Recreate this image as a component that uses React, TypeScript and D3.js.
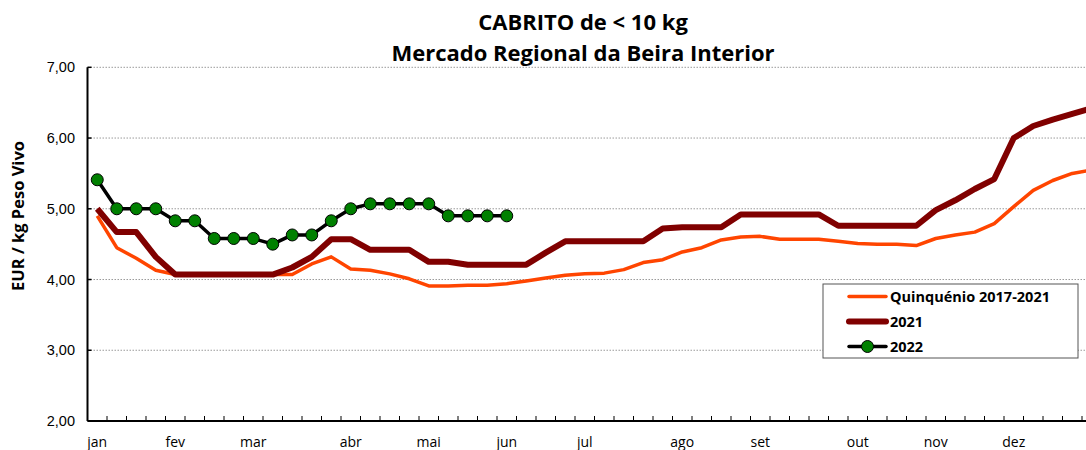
import { useEffect, useRef } from "react";
import * as d3 from "d3";

// Semanas (eixo de categorias)
const weeks = d3.range(1, 53);

// Rótulos de mês e a semana onde aparecem
const monthNames = ["jan", "fev", "mar", "abr", "mai", "jun", "jul", "ago", "set", "out", "nov", "dez"];
const monthWeeks = [1, 5, 9, 14, 18, 22, 26, 31, 35, 40, 44, 48];

const yTicks = [2, 3, 4, 5, 6, 7];

// Quinquénio 2017-2021
const quinquenio = [
    4.9, 4.45, 4.3, 4.13, 4.07, 4.07, 4.07, 4.07, 4.07, 4.07, 4.07, 4.22, 4.32,
    4.15, 4.13, 4.08, 4.01, 3.91, 3.91, 3.92, 3.92, 3.94, 3.98, 4.02, 4.06, 4.08,
    4.09, 4.14, 4.24, 4.28, 4.39, 4.45, 4.56, 4.6, 4.61, 4.57, 4.57, 4.57, 4.54,
    4.51, 4.5, 4.5, 4.48, 4.58, 4.63, 4.67, 4.79, 5.03, 5.26, 5.4, 5.5, 5.55,
];

// 2021
const ano2021 = [
    5.0, 4.67, 4.67, 4.32, 4.07, 4.07, 4.07, 4.07, 4.07, 4.07, 4.17, 4.32, 4.57,
    4.57, 4.42, 4.42, 4.42, 4.25, 4.25, 4.21, 4.21, 4.21, 4.21, 4.38, 4.54, 4.54,
    4.54, 4.54, 4.54, 4.72, 4.74, 4.74, 4.74, 4.92, 4.92, 4.92, 4.92, 4.92, 4.76,
    4.76, 4.76, 4.76, 4.76, 4.98, 5.12, 5.28, 5.42, 6.0, 6.17, 6.26, 6.34, 6.42,
];

// 2022 (até à semana 22)
const ano2022 = [
    5.41, 5.0, 5.0, 5.0, 4.83, 4.83, 4.58, 4.58, 4.58, 4.5, 4.63, 4.63, 4.83,
    5.0, 5.07, 5.07, 5.07, 5.07, 4.9, 4.9, 4.9, 4.9,
];

const bold = "'Open Sans', 'DejaVu Sans', sans-serif";

export default function App() {
    const svgRef = useRef<SVGSVGElement | null>(null);

    useEffect(() => {
        if (!svgRef.current) return;
        d3.select(svgRef.current).selectAll("*").remove();

        const width = 1086;
        const height = 450;
        const margin = { top: 67.3, left: 87.5 };
        const band = 19.5;
        const innerHeight = 421 - margin.top;

        const svg = d3.select(svgRef.current).attr("width", width).attr("height", height);

        const x = d3
            .scaleBand<number>()
            .domain(weeks)
            .range([margin.left, margin.left + band * weeks.length]);
        const cx = (w: number) => (x(w) || 0) + x.bandwidth() / 2;

        const y = d3.scaleLinear().domain([2, 7]).range([margin.top + innerHeight, margin.top]);

        // Grelha
        svg.append("g")
            .selectAll("line")
            .data(yTicks.filter((d) => d > 2))
            .enter()
            .append("line")
            .attr("x1", margin.left)
            .attr("x2", width)
            .attr("y1", (d) => y(d))
            .attr("y2", (d) => y(d))
            .attr("stroke", "#9a9a9a")
            .attr("stroke-width", 1)
            .attr("stroke-dasharray", "1.5,1.5");

        // Eixo Y
        svg.append("line")
            .attr("x1", margin.left)
            .attr("x2", margin.left)
            .attr("y1", y(7))
            .attr("y2", y(2))
            .attr("stroke", "#000")
            .attr("stroke-width", 2);
        svg.append("g")
            .selectAll("line")
            .data(yTicks)
            .enter()
            .append("line")
            .attr("x1", margin.left)
            .attr("x2", margin.left + 4)
            .attr("y1", (d) => y(d))
            .attr("y2", (d) => y(d))
            .attr("stroke", "#000")
            .attr("stroke-width", 1.5);
        svg.append("g")
            .selectAll("text")
            .data(yTicks)
            .enter()
            .append("text")
            .attr("x", 75)
            .attr("y", (d) => y(d) + 5)
            .attr("text-anchor", "end")
            .attr("font-family", "'Liberation Sans', Arial, sans-serif")
            .attr("font-size", "14.5px")
            .attr("fill", "#000")
            .text((d) => d3.format(".2f")(d).replace(".", ","));

        // Eixo X
        svg.append("line")
            .attr("x1", margin.left)
            .attr("x2", width)
            .attr("y1", y(2))
            .attr("y2", y(2))
            .attr("stroke", "#000")
            .attr("stroke-width", 2);
        svg.append("g")
            .selectAll("line")
            .data(weeks.slice(1))
            .enter()
            .append("line")
            .attr("x1", (d) => x(d) || 0)
            .attr("x2", (d) => x(d) || 0)
            .attr("y1", y(2))
            .attr("y2", y(2) - 5)
            .attr("stroke", "#000")
            .attr("stroke-width", 1);
        svg.append("g")
            .selectAll("text")
            .data(monthWeeks)
            .enter()
            .append("text")
            .attr("x", (d) => cx(d))
            .attr("y", 447)
            .attr("text-anchor", "middle")
            .attr("font-family", "'Open Sans', sans-serif")
            .attr("font-size", "14px")
            .attr("fill", "#000")
            .text((d, i) => monthNames[i]);

        // Séries
        const line = d3
            .line<number>()
            .x((d, i) => cx(weeks[i]))
            .y((d) => y(d));

        svg.append("path")
            .datum(quinquenio)
            .attr("d", line)
            .attr("fill", "none")
            .attr("stroke", "#ff4500")
            .attr("stroke-width", 3.5)
            .attr("stroke-linejoin", "round");

        svg.append("path")
            .datum(ano2021)
            .attr("d", line)
            .attr("fill", "none")
            .attr("stroke", "#800000")
            .attr("stroke-width", 6)
            .attr("stroke-linejoin", "round");

        svg.append("path")
            .datum(ano2022)
            .attr("d", line)
            .attr("fill", "none")
            .attr("stroke", "#000")
            .attr("stroke-width", 3.5)
            .attr("stroke-linejoin", "round");

        svg.append("g")
            .selectAll("circle")
            .data(ano2022)
            .enter()
            .append("circle")
            .attr("cx", (d, i) => cx(weeks[i]))
            .attr("cy", (d) => y(d))
            .attr("r", 6)
            .attr("fill", "#008000")
            .attr("stroke", "#000")
            .attr("stroke-width", 1);

        // Títulos
        svg.append("text")
            .attr("x", 583)
            .attr("y", 30)
            .attr("text-anchor", "middle")
            .attr("font-family", bold)
            .attr("font-weight", "bold")
            .attr("font-size", "22px")
            .text("CABRITO de < 10 kg");
        svg.append("text")
            .attr("x", 583)
            .attr("y", 61)
            .attr("text-anchor", "middle")
            .attr("font-family", bold)
            .attr("font-weight", "bold")
            .attr("font-size", "22px")
            .text("Mercado Regional da Beira Interior");

        svg.append("text")
            .attr("transform", "translate(24,216) rotate(-90)")
            .attr("text-anchor", "middle")
            .attr("font-family", bold)
            .attr("font-weight", "bold")
            .attr("font-size", "16.5px")
            .text("EUR / kg Peso Vivo");

        // Legenda
        const legend = svg.append("g");
        legend.append("rect")
            .attr("x", 823)
            .attr("y", 284)
            .attr("width", 255)
            .attr("height", 74)
            .attr("fill", "#fff")
            .attr("stroke", "#555")
            .attr("stroke-width", 1);

        const items = [
            { label: "Quinquénio 2017-2021", color: "#ff4500", w: 3.5, marker: false },
            { label: "2021", color: "#800000", w: 6, marker: false },
            { label: "2022", color: "#000", w: 3.5, marker: true },
        ];
        items.forEach((it, i) => {
            const ly = 296.5 + i * 25;
            legend.append("line")
                .attr("x1", 849)
                .attr("x2", 886)
                .attr("y1", ly)
                .attr("y2", ly)
                .attr("stroke", it.color)
                .attr("stroke-width", it.w)
                .attr("stroke-linecap", "round");
            if (it.marker) {
                legend.append("circle")
                    .attr("cx", 867.5)
                    .attr("cy", ly)
                    .attr("r", 6)
                    .attr("fill", "#008000")
                    .attr("stroke", "#000");
            }
            legend.append("text")
                .attr("x", 890)
                .attr("y", ly + 5)
                .attr("font-family", bold)
                .attr("font-weight", "bold")
                .attr("font-size", "14.5px")
                .text(it.label);
        });
    }, []);

    return (
        <svg
            ref={svgRef}
            style={{ position: "absolute", left: 0, top: 0, display: "block", background: "#fff" }}
        />
    );
}
